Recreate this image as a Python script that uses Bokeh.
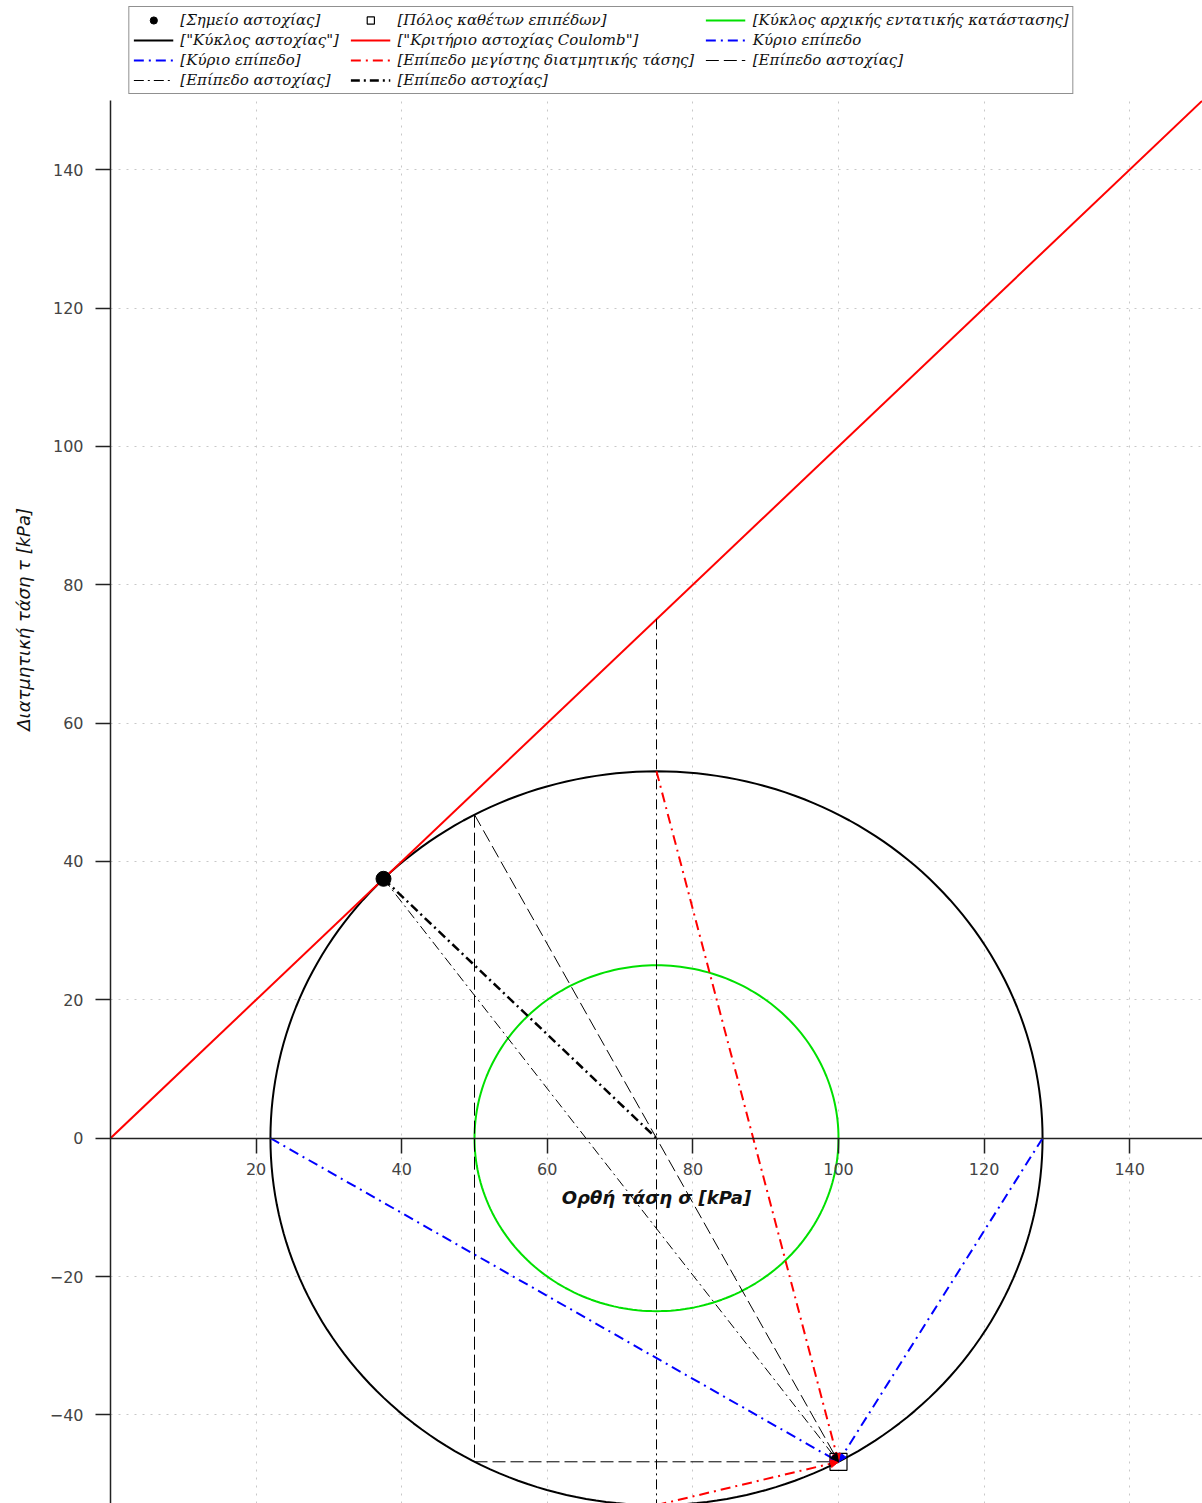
import numpy as np
from bokeh.plotting import figure
from bokeh.layouts import column, row
from bokeh.models import (Range1d, Legend, LegendItem, Label, FixedTicker,
                          Arrow, NormalHead, ColumnDataSource)
from bokeh.embed import file_html
from bokeh.resources import INLINE

# ---------------- data (kPa) ----------------
coulomb_sigma = [0.0, 150.0]
coulomb_tau = [0.0, 150.0]

initial_center = 75.0
initial_radius = 25.0
failure_center = 75.0
failure_radius = 53.03

failure_point_sigma = [37.5]
failure_point_tau = [37.5]
pole_sigma = [100.0]
pole_tau = [-46.77]

principal_a_sigma = [21.97, 100.0]
principal_a_tau = [0.0, -46.77]
principal_b_sigma = [128.03, 100.0]
principal_b_tau = [0.0, -46.77]

max_shear_sigma = [[75.0, 100.0], [75.0, 100.0]]
max_shear_tau = [[53.03, -46.77], [-53.03, -46.77]]

plane_dash_sigma = [[50.0, 50.0], [50.0, 100.0], [50.0, 100.0]]
plane_dash_tau = [[46.77, -46.77], [-46.77, -46.77], [46.77, -46.77]]

plane_thin_sigma = [[37.5, 100.0], [75.0, 75.0]]
plane_thin_tau = [[37.5, -46.77], [75.0, -53.03]]

plane_thick_sigma = [37.5, 75.0]
plane_thick_tau = [37.5, 0.0]

x_ticks = [20, 40, 60, 80, 100, 120, 140]
y_ticks = [-40, -20, 0, 20, 40, 60, 80, 100, 120, 140]

legend_labels = ["[Σημείο αστοχίας]", "[Πόλος καθέτων επιπέδων]",
                 "[Κύκλος αρχικής εντατικής κατάστασης]",
                 '["Κύκλος αστοχίας"]', '["Κριτήριο αστοχίας Coulomb"]',
                 "Κύριο επίπεδο", "[Κύριο επίπεδο]",
                 "[Επίπεδο μεγίστης διατμητικής τάσης]",
                 "[Επίπεδο αστοχίας]", "[Επίπεδο αστοχίας]", "[Επίπεδο αστοχίας]"]

# ---------------- styles ----------------
GREEN, RED, BLUE, BLACK = "#00e000", "#ff0000", "#0000ff", "black"
DASHDOT = "10 5 2 5"
styles = {
    "init": dict(line_color=GREEN, line_width=2),
    "fail": dict(line_color=BLACK, line_width=2),
    "coul": dict(line_color=RED, line_width=2),
    "dash": dict(line_color=BLACK, line_width=1, line_dash="13 5"),
    "thin": dict(line_color=BLACK, line_width=1, line_dash="10 4 2 4"),
    "thick": dict(line_color=BLACK, line_width=2.5, line_dash="9 4 2 4"),
    "blue": dict(line_color=BLUE, line_width=2, line_dash=DASHDOT),
    "red": dict(line_color=RED, line_width=2, line_dash=DASHDOT),
}

W, H_LEG, H_MAIN, LEFT = 1202, 100, 1403, 108
TITLE_W = 46

y_rng = Range1d(-52.8, 150)

# ---------------- main figure ----------------
p = figure(width=W - TITLE_W, height=H_MAIN,
           x_range=Range1d(0, 150), y_range=y_rng,
           output_backend="svg", toolbar_location=None,
           min_border_left=LEFT - TITLE_W, min_border_right=0,
           min_border_top=0, min_border_bottom=0)
p.outline_line_color = None

for g, t in ((p.xgrid, x_ticks), (p.ygrid, y_ticks)):
    g.ticker = FixedTicker(ticks=t)
    g.grid_line_color = "#c8c8c8"
    g.grid_line_dash = "2 6"
    g.grid_line_width = 1

ax = p.xaxis[0]
ax.fixed_location = 0
ax.ticker = FixedTicker(ticks=x_ticks)
ay = p.yaxis[0]
ay.ticker = FixedTicker(ticks=y_ticks)
for a in (ax, ay):
    a.major_tick_in = 0
    a.major_tick_out = 15
    a.minor_tick_line_color = None
    a.axis_line_color = "#222222"
    a.axis_line_width = 1.5
    a.major_tick_line_color = "#222222"
    a.major_tick_line_width = 1.5
    a.major_label_text_font = "DejaVu Sans"
    a.major_label_text_font_size = "16px"
    a.major_label_text_color = "#444444"
ax.major_label_standoff = 10
ay.major_label_standoff = 12
ax.axis_label = "Ορθή τάση σ [kPa]"
ax.axis_label_text_font = "DejaVu Sans"
ax.axis_label_text_font_style = "bold italic"
ax.axis_label_text_font_size = "18px"
ax.axis_label_text_color = "#111111"
ax.axis_label_standoff = 8

theta = np.linspace(0, 2 * np.pi, 241)
init_x = initial_center + initial_radius * np.cos(theta)
init_y = initial_radius * np.sin(theta)
fail_x = failure_center + failure_radius * np.cos(theta)
fail_y = failure_radius * np.sin(theta)

p.line(init_x, init_y, **styles["init"])
p.line(fail_x, fail_y, **styles["fail"])
p.line(coulomb_sigma, coulomb_tau, **styles["coul"])
p.multi_line(plane_dash_sigma, plane_dash_tau, **styles["dash"])
p.multi_line(plane_thin_sigma, plane_thin_tau, **styles["thin"])
p.line(plane_thick_sigma, plane_thick_tau, **styles["thick"])
p.line(principal_a_sigma, principal_a_tau, **styles["blue"])
p.line(principal_b_sigma, principal_b_tau, **styles["blue"])
p.multi_line(max_shear_sigma, max_shear_tau, **styles["red"])

heads = [(principal_a_sigma, principal_a_tau, BLUE),
         (principal_b_sigma, principal_b_tau, BLUE),
         (max_shear_sigma[0], max_shear_tau[0], RED),
         (max_shear_sigma[1], max_shear_tau[1], RED),
         (plane_thin_sigma[0], plane_thin_tau[0], BLACK)]
for xs, ys, c in heads:
    p.add_layout(Arrow(end=NormalHead(size=8, fill_color=c, line_color=c, line_width=1),
                       x_start=xs[0], y_start=ys[0], x_end=xs[1], y_end=ys[1],
                       line_alpha=0))

p.scatter(failure_point_sigma, failure_point_tau, marker="circle", size=15,
          fill_color=BLACK, line_color=BLACK)
p.scatter(pole_sigma, pole_tau, marker="square", size=17,
          fill_color=None, line_color=BLACK, line_width=1.2)

# ---------------- y-axis title strip ----------------
yt = figure(width=TITLE_W, height=H_MAIN, x_range=Range1d(0, 1), y_range=y_rng,
            output_backend="svg", toolbar_location=None,
            min_border_left=0, min_border_right=0, min_border_top=0, min_border_bottom=0)
yt.axis.visible = False
yt.grid.visible = False
yt.outline_line_color = None
yt.add_layout(Label(x=0.5, y=75, text="Διατμητική τάση τ [kPa]", angle=np.pi / 2,
                    text_align="center", text_baseline="middle",
                    text_font="DejaVu Sans", text_font_style="italic",
                    text_font_size="18px", text_color="#111111"))

# ---------------- legend strip ----------------
lg = figure(width=W, height=H_LEG, x_range=Range1d(0, 1), y_range=Range1d(0, 1),
            output_backend="svg", toolbar_location=None,
            min_border_left=0, min_border_right=0, min_border_top=0, min_border_bottom=0)
lg.axis.visible = False
lg.grid.visible = False
lg.outline_line_color = None

def hidden_pt():
    return ColumnDataSource(data=dict(x=[-10.0], y=[-10.0]))

def hidden_ln():
    return ColumnDataSource(data=dict(x=[-10.0, -9.0], y=[-10.0, -10.0]))

l_fp = lg.scatter("x", "y", source=hidden_pt(), marker="circle", size=15,
                  fill_color=BLACK, line_color=BLACK)
l_pole = lg.scatter("x", "y", source=hidden_pt(), marker="square", size=15,
                    fill_color=None, line_color=BLACK, line_width=1.2)
l_init = lg.line("x", "y", source=hidden_ln(), **styles["init"])
l_fail = lg.line("x", "y", source=hidden_ln(), **styles["fail"])
l_coul = lg.line("x", "y", source=hidden_ln(), **styles["coul"])
l_pb = lg.line("x", "y", source=hidden_ln(), **styles["blue"])
l_pa = lg.line("x", "y", source=hidden_ln(), **styles["blue"])
l_ms = lg.line("x", "y", source=hidden_ln(), **styles["red"])
l_dash = lg.line("x", "y", source=hidden_ln(), **styles["dash"])
l_thin = lg.line("x", "y", source=hidden_ln(), **styles["thin"])
l_thick = lg.line("x", "y", source=hidden_ln(), **styles["thick"])
rends = [l_fp, l_pole, l_init, l_fail, l_coul, l_pb, l_pa, l_ms, l_dash, l_thin, l_thick]

# first two columns get a little trailing room so the columns do not touch
items = []
for i, (t, r) in enumerate(zip(legend_labels, rends)):
    pad = "  " if i % 3 != 2 else ""
    items.append(LegendItem(label=t + pad, renderers=[r]))

legend = Legend(items=items, ncols=3, orientation="horizontal",
                location="top_center", margin=6, padding=4, spacing=2,
                glyph_width=40, glyph_height=18, label_standoff=7,
                label_text_font="DejaVu Serif", label_text_font_style="italic",
                label_text_font_size="15px", label_height=18,
                label_text_color="#111111",
                border_line_color="#222222", border_line_width=1,
                background_fill_color="white", background_fill_alpha=1)
lg.add_layout(legend)

layout = column(lg, row(yt, p, spacing=0), spacing=0)
open("out.html", "w").write(file_html(layout, INLINE))
